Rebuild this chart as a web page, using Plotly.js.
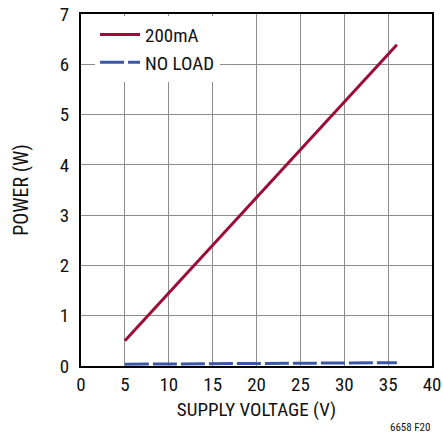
<!DOCTYPE html>
<html>
<head>
<meta charset="utf-8">
<script src="https://cdn.plot.ly/plotly-3.0.1.min.js"></script>
<style>html,body{margin:0;padding:0;background:#fff;}#chart{width:443px;height:433px;}</style>
</head>
<body>
<div id="chart"></div>
<script>
const voltage = [5, 10, 15, 20, 25, 30, 36];
const power200mA = [0.50, 1.45, 2.40, 3.35, 4.30, 5.25, 6.39];
const powerNoLoad = [0.035, 0.04, 0.045, 0.05, 0.055, 0.06, 0.066];
const xTicks = [0, 5, 10, 15, 20, 25, 30, 35, 40];
const yTicks = [0, 1, 2, 3, 4, 5, 6, 7];

const FONT = '"Liberation Sans Narrow", "Roboto Condensed", "Arial Narrow", "Liberation Sans", sans-serif';

const traces = [
  {x: voltage, y: power200mA, name: '200mA', mode: 'lines', type: 'scatter',
   line: {color: '#9c0c36', width: 3}},
  {x: voltage, y: powerNoLoad, name: 'NO LOAD', mode: 'lines', type: 'scatter',
   line: {color: '#3b58a8', width: 3, dash: '24px,4px'}}
];

const axisCommon = {
  showgrid: true, gridcolor: '#8c8c8c', gridwidth: 1.2,
  showline: true, linecolor: '#000', linewidth: 2, mirror: true,
  zeroline: false, ticks: '', tickfont: {family: FONT, size: 19, color: '#111'},
  tickmode: 'array'
};

const layout = {
  width: 443, height: 433,
  margin: {l: 81, r: 11, t: 14, b: 67},
  paper_bgcolor: '#fff', plot_bgcolor: '#fff',
  showlegend: true,
  legend: {x: 0.04, y: 0.995, xanchor: 'left', yanchor: 'top', bgcolor: '#fff',
           font: {family: FONT, size: 19, color: '#111'}, tracegroupgap: 0,
           itemwidth: 40},
  xaxis: Object.assign({}, axisCommon, {range: [0, 40], tickvals: xTicks,
    title: {text: 'SUPPLY VOLTAGE (V)', font: {family: FONT, size: 19, color: '#111'}, standoff: 8}}),
  yaxis: Object.assign({}, axisCommon, {range: [0, 7], tickvals: yTicks, ticklabelstandoff: 6,
    title: {text: 'POWER (W)', font: {family: FONT, size: 20, color: '#111'}, standoff: 26}}),
  annotations: [{text: '6658 F20', xref: 'paper', yref: 'paper', x: 1.0, y: -0.15,
    xanchor: 'right', yanchor: 'top', showarrow: false,
    font: {family: FONT, size: 11, color: '#111'}}]
};

Plotly.newPlot('chart', traces, layout, {staticPlot: true});
</script>
</body>
</html>
